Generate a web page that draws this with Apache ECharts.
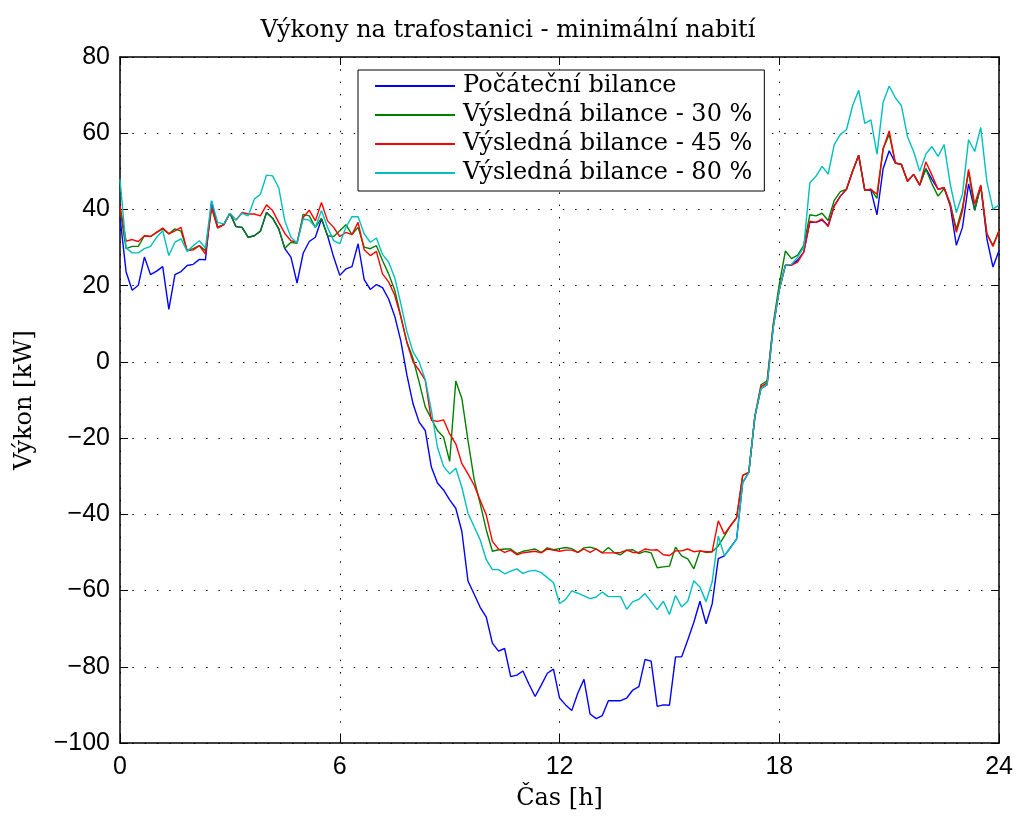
<!DOCTYPE html>
<html>
<head>
<meta charset="utf-8">
<script src="https://cdn.jsdelivr.net/npm/echarts@6/dist/echarts.min.js"></script>
<style>
html, body { margin: 0; padding: 0; background: #fff; }
#chart { width: 1016px; height: 821px; }
</style>
</head>
<body>
<div id="chart"></div>
<script>
// 10 minute samples, 0 h .. 24 h
const STEP_H = 1 / 6;

const seriesNames = [
    'Počáteční bilance',
    'Výsledná bilance - 30 %',
    'Výsledná bilance - 45 %',
    'Výsledná bilance - 80 %'
];

const initial = [
    38, 23.6, 18.8, 20.1, 27.5, 22.9, 23.8, 25.0, 13.8, 22.9, 23.7, 25.3, 25.6, 26.9, 26.8, 42.1,
    35.3, 36.0, 39.0, 35.5, 35.3, 32.7, 33.1, 34.3, 39.2, 37.7, 34.9, 29.7, 27.5, 20.7, 28.5, 31.6,
    32.7, 37.5, 33.1, 27.5, 22.7, 24.4, 25.0, 31.0, 21.6, 19.0, 20.3, 19.5, 16.5, 12.0, 5.5, -3.5,
    -11.0, -15.8, -18.0, -27.6, -31.8, -33.6, -36.2, -38.4, -44.5, -57.5, -60.9, -64.4, -67.0, -73.8,
    -75.9, -75.2, -82.6, -82.2, -81.1, -84.6, -87.8, -84.8, -81.7, -80.6, -88.2, -90.0, -91.5, -86.9,
    -83.3, -92.4, -93.6, -92.8, -88.9, -88.9, -88.9, -88.2, -86.1, -85.2, -78.1, -78.5, -90.4, -90.0,
    -90.1, -77.4, -77.4, -73.0, -68.3, -62.8, -68.7, -63.5, -51.6, -50.9, -48.7, -46.5, -31.7, -29.0,
    -14.3, -7, -6, 9, 19, 25.4, 25.4, 26.7, 28.8, 36.6, 36.6, 37.2, 35.8, 41.0, 43.5, 45.3,
    50.0, 54.2, 45.0, 45.0, 38.6, 50.7, 55.4, 52.2, 51.8, 47.4, 49.2, 46.4, 50.7, 47.9, 45.3, 45.7,
    40.9, 30.6, 35.3, 46.7, 39.8, 46.1, 32.3, 24.9, 29.3
];

const result30 = [
    40, 29.7, 30.3, 30.3, 33.1, 32.9, 34.0, 34.9, 33.6, 34.9, 34.3, 29.2, 29.7, 30.5, 29.2, 40.5,
    35.3, 36.0, 39.0, 35.5, 35.3, 32.7, 33.1, 34.3, 39.2, 37.7, 34.9, 29.8, 31.4, 31.1, 38.7, 38.3,
    35.3, 37.7, 33.1, 32.9, 34.4, 36.0, 33.4, 35.3, 30.1, 29.7, 30.5, 26.6, 23.1, 18.8, 12.0, 5.2,
    0.9, -5.3, -11.8, -14.9, -18.0, -19.7, -26.1, -5.0, -9.6, -20.6, -30.7, -37.2, -44.1, -49.7,
    -49.3, -49.1, -49.1, -50.3, -49.7, -49.4, -49.1, -50.0, -48.8, -49.3, -49.0, -48.7, -49.0, -50.0,
    -48.8, -48.6, -49.1, -50.1, -48.7, -50.1, -50.6, -49.4, -49.3, -50.3, -49.7, -50.1, -54.0, -53.8,
    -53.6, -48.6, -50.9, -51.7, -54.3, -49.6, -50.0, -49.8, -48.3, -45.7, -43.0, -40.9, -29.8, -29.0,
    -14.3, -6, -5, 10, 20.5, 29.1, 27.1, 28.0, 30.6, 38.6, 38.3, 39.0, 37.1, 42.4, 44.7, 45.3,
    50.0, 54.2, 45.0, 45.3, 42.9, 55.9, 59.7, 52.2, 51.8, 47.4, 49.2, 46.4, 50.7, 46.7, 43.5, 45.5,
    41.4, 34.9, 40.5, 50.0, 39.8, 46.1, 33.6, 30.6, 34.5
];

const result45 = [
    41, 31.7, 32.1, 31.6, 33.1, 32.9, 34.0, 35.1, 33.6, 34.4, 35.3, 29.2, 29.4, 30.5, 28.3, 40.5,
    35.1, 36.0, 39.0, 37.2, 39.2, 38.8, 38.8, 38.3, 41.2, 39.7, 36.6, 33.7, 31.8, 31.4, 37.9, 39.8,
    37.0, 41.8, 37.0, 35.3, 32.9, 34.0, 33.4, 36.6, 29.4, 27.9, 29.0, 23.1, 21.0, 17.5, 11.8, 5.0,
    0, -2.2, -4.8, -15.3, -15.6, -15.2, -18.9, -21.5, -26.7, -29.4, -32.3, -36.3, -40.2, -47.1,
    -49.1, -50.0, -49.4, -50.6, -50.1, -49.9, -49.7, -50.1, -49.1, -49.4, -49.7, -49.4, -49.4, -50.0,
    -49.1, -50.0, -49.1, -50.1, -50.1, -50.1, -50.0, -49.4, -50.0, -50.0, -49.1, -49.4, -49.3, -50.6,
    -50.8, -49.6, -49.6, -49.1, -49.8, -49.6, -49.8, -49.8, -41.7, -45.2, -43.0, -40.9, -29.8, -29.0,
    -14.3, -6.5, -5.5, 9.5, 19, 25.4, 25.4, 26.2, 28.8, 36.9, 36.6, 37.5, 35.5, 40.9, 43.5, 45.3,
    50.0, 54.2, 45.0, 45.3, 44.0, 55.9, 60.6, 52.2, 51.8, 47.4, 49.2, 46.4, 52.5, 49.0, 45.3, 45.7,
    41.4, 34.0, 39.6, 50.5, 41.4, 46.4, 33.6, 30.3, 34.5
];

const result80 = [
    48, 29.9, 28.6, 28.6, 29.7, 30.3, 32.7, 34.4, 27.9, 31.4, 32.3, 29.0, 30.5, 31.8, 29.9, 42.3,
    36.6, 36.2, 39.0, 37.2, 39.0, 38.3, 42.7, 44.0, 49.0, 48.8, 45.7, 37.0, 32.7, 31.2, 37.5, 37.2,
    35.3, 39.7, 35.3, 31.8, 31.0, 35.3, 38.1, 38.1, 33.6, 31.4, 32.5, 28.2, 26.2, 22.1, 15.3, 7.9,
    2.6, 0, -4.6, -12.7, -22.4, -27.4, -29.4, -27.9, -32.9, -39.7, -43.2, -46.7, -51.9, -54.5,
    -54.5, -55.6, -54.9, -54.3, -55.5, -54.9, -54.7, -55.3, -56.6, -57.9, -63.4, -62.3, -60.1, -60.7,
    -61.4, -62.1, -61.7, -60.4, -61.6, -61.6, -61.6, -64.9, -62.9, -62.3, -60.8, -62.9, -65.0, -62.8,
    -66.3, -61.3, -64.3, -62.8, -57.4, -59.1, -62.9, -57.7, -45.7, -50.9, -48.7, -46.5, -31.7, -29.0,
    -14.3, -7, -6, 9, 19, 25.4, 25.6, 27.5, 30.1, 47.0, 48.7, 51.3, 49.3, 57.0, 59.7, 60.9,
    67.2, 71.3, 62.6, 63.5, 54.5, 68.1, 72.4, 69.3, 67.2, 59.1, 55.2, 50.0, 54.5, 56.5, 53.9, 57.0,
    46.6, 39.2, 44.0, 58.3, 55.2, 61.5, 47.3, 40.1, 41.2
];

const colors = ['#0000ff', '#008000', '#ff0000', '#00bfbf'];
const serif = '"DejaVu Serif", "Liberation Serif", serif';
const sans = '"Liberation Sans", Arial, sans-serif';

function toPairs(values) {
    return values.map((v, i) => [i * STEP_H, v]);
}

const chart = echarts.init(document.getElementById('chart'));

// every side of the box: black frame, ticks pointing inwards
const boxAxis = {
    axisLine: { show: true, onZero: false, lineStyle: { color: '#000', width: 1.5 } },
    axisTick: { show: true, inside: true, length: 8, lineStyle: { color: '#000', width: 1 } }
};

const option = {
    animation: false,
    color: colors,
    title: {
        text: 'Výkony na trafostanici - minimální nabití',
        left: 'center',
        top: 14,
        textStyle: {
            fontFamily: serif,
            fontSize: 24,
            fontWeight: 'normal',
            color: '#000'
        }
    },
    legend: {
        orient: 'vertical',
        left: 358,
        top: 70,
        backgroundColor: '#fff',
        borderColor: '#000',
        borderWidth: 1,
        padding: [4, 12, 6, 17],
        itemGap: 5,
        itemWidth: 80,
        itemHeight: 2,
        icon: 'rect',
        textStyle: {
            fontFamily: serif,
            fontSize: 24,
            lineHeight: 22,
            color: '#000',
            padding: [0, 0, 0, 3]
        },
        data: seriesNames
    },
    grid: {
        left: 120,
        right: 15,
        top: 57,
        bottom: 78
    },
    xAxis: [
        Object.assign({
            type: 'value',
            position: 'bottom',
            min: 0,
            max: 24,
            interval: 6,
            name: 'Čas [h]',
            nameLocation: 'middle',
            nameGap: 44,
            nameTextStyle: { fontFamily: serif, fontSize: 24, color: '#000' },
            axisLabel: { fontFamily: sans, fontSize: 25, color: '#000', margin: 12 },
            splitLine: { show: true, lineStyle: { color: '#000', width: 1, type: [1.5, 10.8] } }
        }, boxAxis),
        Object.assign({
            type: 'value',
            position: 'top',
            min: 0,
            max: 24,
            interval: 6,
            axisLabel: { show: false },
            splitLine: { show: false }
        }, boxAxis)
    ],
    yAxis: [
        Object.assign({
            type: 'value',
            position: 'left',
            min: -100,
            max: 80,
            interval: 20,
            name: 'Výkon [kW]',
            nameLocation: 'middle',
            nameGap: 83,
            nameRotate: 90,
            nameTextStyle: { fontFamily: serif, fontSize: 24, color: '#000' },
            axisLabel: {
                fontFamily: sans,
                fontSize: 25,
                color: '#000',
                margin: 10,
                formatter: v => String(v).replace('-', '\u2212')
            },
            splitLine: { show: true, lineStyle: { color: '#000', width: 1, type: [1.5, 10.8] } }
        }, boxAxis),
        Object.assign({
            type: 'value',
            position: 'right',
            min: -100,
            max: 80,
            interval: 20,
            axisLabel: { show: false },
            splitLine: { show: false }
        }, boxAxis)
    ],
    series: [initial, result30, result45, result80].map((values, k) => ({
        name: seriesNames[k],
        type: 'line',
        xAxisIndex: 0,
        yAxisIndex: 0,
        symbol: 'none',
        lineStyle: { width: 1.4, color: colors[k] },
        itemStyle: { color: colors[k] },
        data: toPairs(values)
    }))
};

chart.setOption(option);
</script>
</body>
</html>
